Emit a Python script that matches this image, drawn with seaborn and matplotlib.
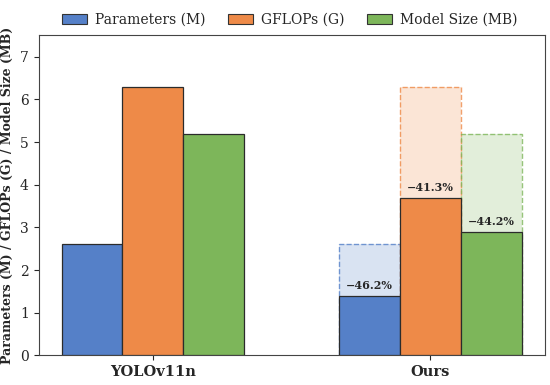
import pandas as pd
import seaborn as sns
import matplotlib.pyplot as plt
from matplotlib.patches import Patch

# Chart values
models = ["YOLOv11n", "Ours"]
metrics = ["Parameters (M)", "GFLOPs (G)", "Model Size (MB)"]
baseline_vals = [2.6, 6.3, 5.2]
ours_vals = [1.4, 3.7, 2.9]
reductions = ["\u221246.2%", "\u221241.3%", "\u221244.2%"]
colors = ["#5580C8", "#EE8A48", "#7DB65A"]

df = pd.DataFrame({
    "model": [models[0]] * 3 + [models[1]] * 3,
    "metric": metrics * 2,
    "value": baseline_vals + ours_vals,
})

sns.set_style("ticks")
plt.rcParams["font.family"] = ["DejaVu Serif"]

fig, ax = plt.subplots(figsize=(5.5, 3.85), dpi=100)

sns.barplot(data=df, x="model", y="value", hue="metric", order=models,
            hue_order=metrics, palette=colors, width=0.66, saturation=1,
            edgecolor="#2b2b2b", linewidth=0.9, ax=ax, legend=False, zorder=3)

# Ghost bars of the baseline behind the "Ours" bars (positions taken from the drawn patches)
n = len(models)
for i, metric in enumerate(metrics):
    p = ax.patches[i * n + 1]
    ax.bar(p.get_x(), baseline_vals[i], width=p.get_width(), align="edge",
           facecolor=colors[i], alpha=0.22, edgecolor="none", zorder=1)
    ax.bar(p.get_x(), baseline_vals[i], width=p.get_width(), align="edge",
           facecolor="none", edgecolor=colors[i], alpha=0.8,
           linestyle="--", linewidth=1.0, zorder=2)
    ax.text(p.get_x() + p.get_width() / 2, ours_vals[i] + 0.1, reductions[i],
            ha="center", va="bottom", fontsize=8, fontweight="bold", zorder=4)

ax.set_ylim(0, 7.5)
ax.set_xlabel("")
ax.set_ylabel("Parameters (M) / GFLOPs (G) / Model Size (MB)", fontsize=9,
              fontweight="bold", labelpad=4)
ax.tick_params(axis="y", labelsize=10)
ax.tick_params(axis="x", labelsize=10.5)
for lbl in ax.get_xticklabels():
    lbl.set_fontweight("bold")
for s in ax.spines.values():
    s.set_color("#444444")

handles = [Patch(facecolor=c, edgecolor="#333333", linewidth=0.8) for c in colors]
fig.legend(handles, metrics, loc="upper center", bbox_to_anchor=(0.527, 1.0),
           ncol=3, frameon=False, fontsize=10, handlelength=1.8,
           handletextpad=0.55, columnspacing=1.65)

fig.subplots_adjust(left=0.07, right=0.99, bottom=0.077, top=0.908)
plt.savefig("out.png", dpi=100)
